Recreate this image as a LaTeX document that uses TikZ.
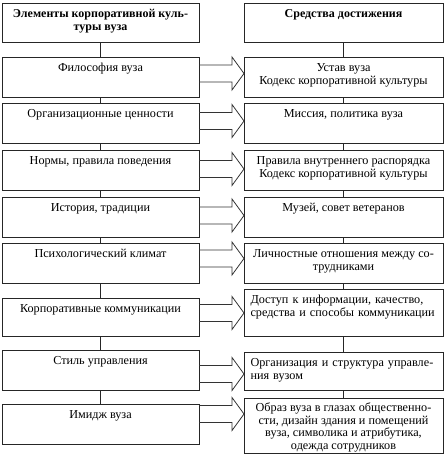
\documentclass[tikz,border=0pt]{standalone}
\usepackage{fontspec}
\setmainfont{Liberation Serif}
\usetikzlibrary{calc}
\tikzset{
  box/.style={draw=black!85, line width=0.8pt, rectangle, anchor=north west, inner sep=0pt, outer sep=0pt},
  lbox/.style={box, minimum width=197pt},
  rbox/.style={box, minimum width=199pt},
  txt/.style={inner sep=0pt, anchor=north, font=\fontsize{12.2}{12.5}\selectfont, align=center},
  htxt/.style={txt, font=\fontsize{12}{12.5}\selectfont\bfseries},
  ltxt/.style={txt, text width=186pt, align=left},
  link/.style={draw=black!85, line width=0.8pt},
  arrline/.style={draw=black!80, line width=0.8pt, line join=miter}
}
\newcommand\blockarr[3]{%
  \draw[arrline] ($(#1.east |- 0,#3)+(0,-8.5)$) -- ($(#2.west |- 0,#3)+(-12,-8.5)$)
    -- ($(#2.west |- 0,#3)+(-12,-16.5)$) -- (#2.west |- 0,#3)
    -- ($(#2.west |- 0,#3)+(-12,16.5)$) -- ($(#2.west |- 0,#3)+(-12,8.5)$)
    -- ($(#1.east |- 0,#3)+(0,8.5)$);}
\begin{document}
\begin{tikzpicture}[x=1pt,y=-1pt]
\useasboundingbox (0,0) rectangle (445,456);
% left column
\node[lbox, minimum height=39pt] (L0) at (2,3) {};
\node[lbox, minimum height=40pt] (L1) at (2,57) {};
\node[lbox, minimum height=40pt] (L2) at (2,103) {};
\node[lbox, minimum height=40pt] (L3) at (2,150) {};
\node[lbox, minimum height=40pt] (L4) at (2,197) {};
\node[lbox, minimum height=40pt] (L5) at (2,243) {};
\node[lbox, minimum height=38pt] (L6) at (2,298) {};
\node[lbox, minimum height=40pt] (L7) at (2,350) {};
\node[lbox, minimum height=40pt] (L8) at (2,404) {};
% right column
\node[rbox, minimum height=39pt] (R0) at (244,3) {};
\node[rbox, minimum height=40pt] (R1) at (244,57) {};
\node[rbox, minimum height=40pt] (R2) at (244,103) {};
\node[rbox, minimum height=40pt] (R3) at (244,150) {};
\node[rbox, minimum height=40pt] (R4) at (244,197) {};
\node[rbox, minimum height=40pt] (R5) at (244,243) {};
\node[rbox, minimum height=47pt] (R6) at (244,289) {};
\node[rbox, minimum height=38pt] (R7) at (244,352) {};
\node[rbox, minimum height=55pt] (R8) at (244,398) {};
% texts left
\node[htxt] (tL0) at ([yshift=-6pt]L0.north) {\strut Элементы корпоративной куль-\\туры вуза};
\node[txt] (tL1) at ([yshift=-6pt]L1.north) {\strut Философия вуза};
\node[txt] (tL2) at ([yshift=-6pt]L2.north) {\strut Организационные ценности};
\node[txt] (tL3) at ([yshift=-6pt]L3.north) {\strut Нормы, правила поведения};
\node[txt] (tL4) at ([yshift=-6pt]L4.north) {\strut История, традиции};
\node[txt] (tL5) at ([yshift=-6pt]L5.north) {\strut Психологический климат};
\node[txt] (tL6) at ([yshift=-6pt]L6.north) {\strut Корпоративные коммуникации};
\node[txt] (tL7) at ([yshift=-6pt]L7.north) {\strut Стиль управления};
\node[txt] (tL8) at ([yshift=-6pt]L8.north) {\strut Имидж вуза};
% texts right
\node[htxt] (tR0) at ([yshift=-6pt]R0.north) {\strut Средства достижения};
\node[txt] (tR1) at ([yshift=-6pt]R1.north) {\strut Устав вуза\\Кодекс корпоративной культуры};
\node[txt] (tR2) at ([yshift=-6pt]R2.north) {\strut Миссия, политика вуза};
\node[txt] (tR3) at ([yshift=-6pt]R3.north) {\strut Правила внутреннего распорядка\\Кодекс корпоративной культуры};
\node[txt] (tR4) at ([yshift=-6pt]R4.north) {\strut Музей, совет ветеранов};
\node[txt] (tR5) at ([yshift=-6pt]R5.north) {\strut Личностные отношения между со-\\трудниками};
\node[ltxt] (tR6) at ([yshift=-6pt]R6.north) {\strut Доступ к информации, качество,\\средства и способы коммуникации};
\node[ltxt] (tR7) at ([yshift=-6pt]R7.north) {\strut Организация и структура управле-\\ния вузом};
\node[txt] (tR8) at ([yshift=-5pt]R8.north) {\strut Образ вуза в глазах общественно-\\сти, дизайн здания и помещений\\вуза, символика и атрибутика,\\одежда сотрудников};
% vertical links
\foreach \a/\b in {0/1,1/2,2/3,3/4,4/5,5/6,6/7,7/8}{
  \draw[link] (L\a.south) -- (L\b.north);
  \draw[link] (R\a.south) -- (R\b.north);
}
% block arrows
\blockarr{L1}{R1}{73.5}
\blockarr{L2}{R2}{121}
\blockarr{L3}{R3}{169}
\blockarr{L4}{R4}{215.5}
\blockarr{L5}{R5}{258.5}
\blockarr{L6}{R6}{313}
\blockarr{L7}{R7}{374}
\blockarr{L8}{R8}{414}
\end{tikzpicture}
\end{document}
